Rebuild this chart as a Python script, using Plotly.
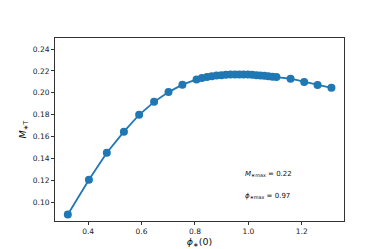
import plotly.graph_objects as go

phi0 = [0.324, 0.403, 0.470, 0.534, 0.591, 0.647, 0.701, 0.753,
        0.806, 0.826, 0.845, 0.863, 0.881, 0.899, 0.916, 0.933, 0.950,
        0.966, 0.982, 0.998, 1.014, 1.030, 1.045, 1.060, 1.075, 1.090,
        1.105, 1.158, 1.209, 1.259, 1.311]
mass = [0.0890, 0.1206, 0.1453, 0.1646, 0.1800, 0.1918, 0.2007, 0.2075,
        0.2123, 0.2135, 0.2145, 0.2152, 0.2158, 0.2162, 0.2165, 0.2167, 0.2168,
        0.2168, 0.2168, 0.2167, 0.2165, 0.2162, 0.2159, 0.2156, 0.2152, 0.2148,
        0.2144, 0.2129, 0.2100, 0.2072, 0.2046]
x_ticks = [0.4, 0.6, 0.8, 1.0, 1.2]
x_tick_labels = ["0.4", "0.6", "0.8", "1.0", "1.2"]
y_ticks = [0.10, 0.12, 0.14, 0.16, 0.18, 0.20, 0.22, 0.24]
y_tick_labels = ["0.10", "0.12", "0.14", "0.16", "0.18", "0.20", "0.22", "0.24"]
m_max_text = "<i>M</i><sub>∗max</sub> = 0.22"
phi_max_text = "<i>ϕ</i><sub>∗max</sub> = 0.97"

blue = "#1f77b4"
font = "DejaVu Sans"

fig = go.Figure()
fig.add_trace(go.Scatter(
    x=phi0, y=mass, mode="lines+markers",
    line=dict(color=blue, width=1.8),
    marker=dict(color=blue, size=8),
    showlegend=False,
))

axis_common = dict(
    showline=True, linecolor="#333333", linewidth=1, mirror=True,
    ticks="outside", ticklen=3, tickwidth=0.8, tickcolor="#333333",
    showgrid=False, zeroline=False,
    tickfont=dict(family=font, size=7.5, color="#222222"),
)

fig.update_layout(
    width=374, height=249,
    margin=dict(l=47, r=38, t=30, b=32),
    plot_bgcolor="white", paper_bgcolor="white",
    xaxis=dict(range=[0.276, 1.358], tickvals=x_ticks, ticktext=x_tick_labels,
               title=dict(text="<i>ϕ</i><sub>∗</sub>(0)", font=dict(family=font, size=9.5, color="#111111"),
                          standoff=2),
               **axis_common),
    yaxis=dict(range=[0.083, 0.2501], tickvals=y_ticks, ticktext=y_tick_labels,
               title=dict(text="<i>M</i><sub>∗T</sub>", font=dict(family=font, size=9.5, color="#111111"),
                          standoff=4),
               **axis_common),
    annotations=[
        dict(x=0.98, y=0.126, xref="x", yref="y", text=m_max_text, showarrow=False,
             xanchor="left", yanchor="middle", font=dict(family=font, size=7, color="#111111")),
        dict(x=0.98, y=0.1056, xref="x", yref="y", text=phi_max_text, showarrow=False,
             xanchor="left", yanchor="middle", font=dict(family=font, size=7, color="#111111")),
    ],
)

fig.write_html("out.html")
